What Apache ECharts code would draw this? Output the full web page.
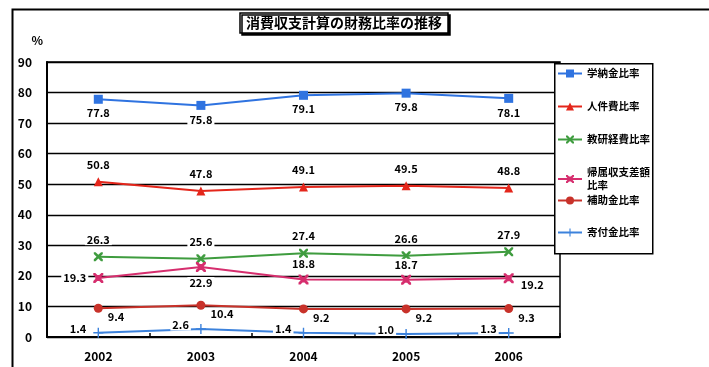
<!DOCTYPE html>
<html>
<head>
<meta charset="utf-8">
<script src="https://cdn.jsdelivr.net/npm/echarts@6/dist/echarts.min.js"></script>
<style>
  html, body { margin: 0; padding: 0; background: #fff; }
  #chart { width: 709px; height: 367px; }
</style>
</head>
<body>
<div id="chart"></div>
<script>
const years = ['2002', '2003', '2004', '2005', '2006']
const gakunokin = [77.8, 75.8, 79.1, 79.8, 78.1]
const jinkenhi = [50.8, 47.8, 49.1, 49.5, 48.8]
const kyokenhi = [26.3, 25.6, 27.4, 26.6, 27.9]
const kizokuSagaku = [19.3, 22.9, 18.8, 18.7, 19.2]
const hojokin = [9.4, 10.4, 9.2, 9.2, 9.3]
const kifukin = [1.4, 2.6, 1.4, 1.0, 1.3]
const seriesNames = ['学納金比率', '人件費比率', '教研経費比率', '帰属収支差額\n比率', '補助金比率', '寄付金比率']

const font = '"Noto Sans CJK JP", "Noto Sans", sans-serif'

// 帰属収支差額比率のラベル位置は点ごとに違う
const kizokuPos = [
  { position: 'left', offset: [0, 0] },
  { position: 'bottom', offset: [0, 0] },
  { position: 'top', offset: [0, 0] },
  { position: 'top', offset: [0, 0] },
  { position: 'right', offset: [0, 6] },
]

const lbl = (extra) => Object.assign({
  show: true, color: '#000', fontSize: 11, fontWeight: 'bold', fontFamily: font,
  backgroundColor: '#fff', padding: [0, 2],
  formatter: (p) => Number(p.value).toFixed(1),
}, extra)

const xMark = 'path://M0,0L2,0L5,3L8,0L10,0L10,2L7,5L10,8L10,10L8,10L5,7L2,10L0,10L0,8L3,5L0,2Z'
const starMark = 'path://M0,0L2,0L5,3L8,0L10,0L10,2L7,5L10,8L10,10L8,10L5,7L2,10L0,10L0,8L3,5L0,2Z M2,2L8,2L8,8L2,8Z'
const plusMark = 'path://M4.3,0H5.7V4.3H10V5.7H5.7V10H4.3V5.7H0V4.3H4.3Z'

const mkSeries = (name, data, color, symbol, size, label) => ({
  name, type: 'line', data, symbol, symbolSize: size, showSymbol: true,
  lineStyle: { color, width: 2 }, itemStyle: { color }, label, z: 2,
})

const legendText = { fontSize: 10.5, fontWeight: 'bold', color: '#000', fontFamily: font, lineHeight: 13 }

const chart = echarts.init(document.getElementById('chart'))
chart.setOption({
  backgroundColor: '#fff',
  animation: false,
  textStyle: { fontFamily: font },
  title: {
    text: '消費収支計算の財務比率の推移',
    left: 240, top: 13,
    padding: [3, 6],
    borderColor: '#000', borderWidth: 1.5, backgroundColor: '#fff',
    shadowColor: '#000', shadowOffsetX: 2, shadowOffsetY: 2, shadowBlur: 0,
    textStyle: { fontSize: 14, fontWeight: 'bold', color: '#000', fontFamily: font },
  },
  graphic: [
    { type: 'rect', left: 10, top: 7, z: 0, silent: true,
      shape: { width: 740, height: 400 }, style: { fill: 'none', stroke: '#000', lineWidth: 2 } },
    { type: 'rect', left: 554, top: 63, z: 3, silent: true,
      shape: { width: 98, height: 190 }, style: { fill: '#fff', stroke: '#000', lineWidth: 1.5 } },
  ],
  legend: [
    {
      data: seriesNames.slice(0, 4), orient: 'vertical', left: 557, top: 67, z: 5,
      itemWidth: 24, itemHeight: 10, itemGap: 20, padding: 0,
      textStyle: legendText,
    },
    {
      data: seriesNames.slice(4), orient: 'vertical', left: 557, top: 194, z: 5,
      itemWidth: 24, itemHeight: 10, itemGap: 19, padding: 0,
      textStyle: legendText,
    },
  ],
  grid: { left: 47, right: 149, top: 62, bottom: 30, show: true, borderColor: '#000', borderWidth: 1.5 },
  xAxis: {
    type: 'category', data: years, boundaryGap: true,
    axisLine: { lineStyle: { color: '#000', width: 2 } },
    axisTick: { show: true, inside: true, length: 4, lineStyle: { color: '#000', width: 1.5 } },
    axisLabel: { color: '#000', fontSize: 12, fontWeight: 'bold', margin: 13, fontFamily: font },
  },
  yAxis: {
    type: 'value', min: 0, max: 90, interval: 10,
    name: '%', nameLocation: 'end', nameGap: 16,
    nameTextStyle: { color: '#000', fontSize: 12, fontWeight: 'bold', align: 'right', padding: [0, 4, 0, 0] },
    axisLine: { show: true, lineStyle: { color: '#000', width: 2 } },
    axisTick: { show: false },
    splitLine: { lineStyle: { color: '#000', width: 1.3 } },
    axisLabel: { color: '#000', fontSize: 12, fontWeight: 'bold', margin: 15, fontFamily: font },
  },
  series: [
    mkSeries(seriesNames[0], gakunokin, '#2f73e0', 'rect', 9, lbl({ position: 'bottom', distance: 4 })),
    mkSeries(seriesNames[1], jinkenhi, '#e4261b', 'triangle', 9, lbl({ position: 'top', distance: 7 })),
    mkSeries(seriesNames[2], kyokenhi, '#3f9c3f', xMark, 9, lbl({ position: 'top', distance: 7 })),
    mkSeries(seriesNames[3], kizokuSagaku.map((v, i) => ({ value: v, label: kizokuPos[i] })),
      '#d62e6e', starMark, 10, lbl({ distance: 5 })),
    mkSeries(seriesNames[4], hojokin, '#c8322a', 'circle', 9, lbl({ position: 'right', distance: 3, offset: [0, 9] })),
    mkSeries(seriesNames[5], kifukin, '#3c82dc', plusMark, 10, lbl({ position: 'left', distance: 5, offset: [0, -4] })),
  ],
})
</script>
</body>
</html>
